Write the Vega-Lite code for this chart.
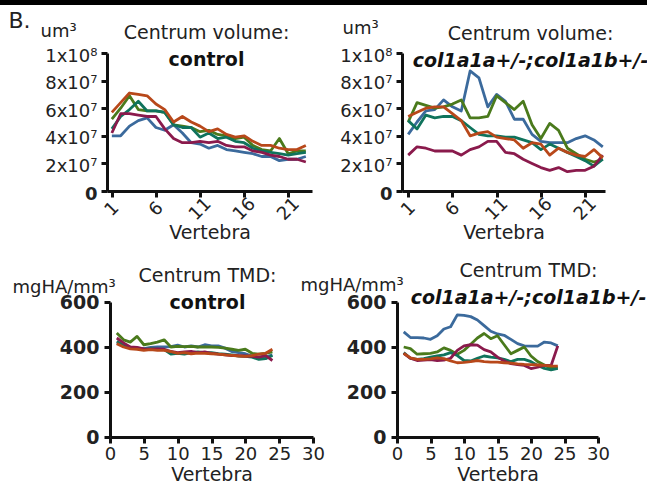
{
  "$schema": "https://vega.github.io/schema/vega-lite/v6.json",
  "padding": 0,
  "background": "white",
  "config": {
    "font": "DejaVu Sans",
    "view": {"stroke": null},
    "axis": {"grid": false, "domainColor": "#111", "domainWidth": 3, "tickColor": "#111", "tickWidth": 3, "tickSize": 6, "labelColor": "#222", "titleColor": "#222", "labelFont": "DejaVu Sans", "titleFont": "DejaVu Sans", "labelFontSize": 18, "titleFontSize": 19, "titleFontWeight": "normal", "labelOverlap": false, "labelFlush": false},
    "title": {"font": "DejaVu Sans", "fontSize": 19, "fontWeight": "normal", "color": "#222", "subtitleFont": "DejaVu Sans", "subtitleFontSize": 19, "subtitleFontWeight": "bold", "subtitleColor": "#111", "subtitlePadding": 8},
    "line": {"strokeWidth": 2.8, "strokeJoin": "round"}
  },
  "datasets": {
    "volCtrl": [
      {"fish":"A","vertebra":1,"volume":40000000},{"fish":"A","vertebra":2,"volume":40000000},{"fish":"A","vertebra":3,"volume":47000000},{"fish":"A","vertebra":4,"volume":51000000},{"fish":"A","vertebra":5,"volume":53000000},{"fish":"A","vertebra":6,"volume":46000000},{"fish":"A","vertebra":7,"volume":44000000},{"fish":"A","vertebra":8,"volume":48000000},{"fish":"A","vertebra":9,"volume":42000000},{"fish":"A","vertebra":10,"volume":35000000},{"fish":"A","vertebra":11,"volume":34000000},{"fish":"A","vertebra":12,"volume":31000000},{"fish":"A","vertebra":13,"volume":33000000},{"fish":"A","vertebra":14,"volume":30000000},{"fish":"A","vertebra":15,"volume":29000000},{"fish":"A","vertebra":16,"volume":28000000},{"fish":"A","vertebra":17,"volume":27000000},{"fish":"A","vertebra":18,"volume":25000000},{"fish":"A","vertebra":19,"volume":25000000},{"fish":"A","vertebra":20,"volume":22000000},{"fish":"A","vertebra":21,"volume":23000000},{"fish":"A","vertebra":22,"volume":23000000},{"fish":"A","vertebra":23,"volume":25000000},
      {"fish":"B","vertebra":1,"volume":52000000},{"fish":"B","vertebra":2,"volume":60000000},{"fish":"B","vertebra":3,"volume":69000000},{"fish":"B","vertebra":4,"volume":59000000},{"fish":"B","vertebra":5,"volume":58000000},{"fish":"B","vertebra":6,"volume":58000000},{"fish":"B","vertebra":7,"volume":57000000},{"fish":"B","vertebra":8,"volume":48000000},{"fish":"B","vertebra":9,"volume":47000000},{"fish":"B","vertebra":10,"volume":46000000},{"fish":"B","vertebra":11,"volume":43000000},{"fish":"B","vertebra":12,"volume":44000000},{"fish":"B","vertebra":13,"volume":41000000},{"fish":"B","vertebra":14,"volume":40000000},{"fish":"B","vertebra":15,"volume":38000000},{"fish":"B","vertebra":16,"volume":39000000},{"fish":"B","vertebra":17,"volume":33000000},{"fish":"B","vertebra":18,"volume":30000000},{"fish":"B","vertebra":19,"volume":29000000},{"fish":"B","vertebra":20,"volume":38000000},{"fish":"B","vertebra":21,"volume":27000000},{"fish":"B","vertebra":22,"volume":29000000},{"fish":"B","vertebra":23,"volume":29000000},
      {"fish":"C","vertebra":1,"volume":45000000},{"fish":"C","vertebra":2,"volume":54000000},{"fish":"C","vertebra":3,"volume":59000000},{"fish":"C","vertebra":4,"volume":65000000},{"fish":"C","vertebra":5,"volume":58000000},{"fish":"C","vertebra":6,"volume":58000000},{"fish":"C","vertebra":7,"volume":57000000},{"fish":"C","vertebra":8,"volume":48000000},{"fish":"C","vertebra":9,"volume":46000000},{"fish":"C","vertebra":10,"volume":46000000},{"fish":"C","vertebra":11,"volume":39000000},{"fish":"C","vertebra":12,"volume":42000000},{"fish":"C","vertebra":13,"volume":38000000},{"fish":"C","vertebra":14,"volume":39000000},{"fish":"C","vertebra":15,"volume":36000000},{"fish":"C","vertebra":16,"volume":35000000},{"fish":"C","vertebra":17,"volume":31000000},{"fish":"C","vertebra":18,"volume":29000000},{"fish":"C","vertebra":19,"volume":28000000},{"fish":"C","vertebra":20,"volume":27000000},{"fish":"C","vertebra":21,"volume":26000000},{"fish":"C","vertebra":22,"volume":27000000},{"fish":"C","vertebra":23,"volume":28000000},
      {"fish":"D","vertebra":1,"volume":42000000},{"fish":"D","vertebra":2,"volume":56000000},{"fish":"D","vertebra":3,"volume":56000000},{"fish":"D","vertebra":4,"volume":55000000},{"fish":"D","vertebra":5,"volume":54000000},{"fish":"D","vertebra":6,"volume":54000000},{"fish":"D","vertebra":7,"volume":45000000},{"fish":"D","vertebra":8,"volume":38000000},{"fish":"D","vertebra":9,"volume":35000000},{"fish":"D","vertebra":10,"volume":35000000},{"fish":"D","vertebra":11,"volume":36000000},{"fish":"D","vertebra":12,"volume":35000000},{"fish":"D","vertebra":13,"volume":36000000},{"fish":"D","vertebra":14,"volume":33000000},{"fish":"D","vertebra":15,"volume":32000000},{"fish":"D","vertebra":16,"volume":32000000},{"fish":"D","vertebra":17,"volume":29000000},{"fish":"D","vertebra":18,"volume":28000000},{"fish":"D","vertebra":19,"volume":26000000},{"fish":"D","vertebra":20,"volume":25000000},{"fish":"D","vertebra":21,"volume":23000000},{"fish":"D","vertebra":22,"volume":23000000},{"fish":"D","vertebra":23,"volume":21000000},
      {"fish":"E","vertebra":1,"volume":57000000},{"fish":"E","vertebra":2,"volume":64000000},{"fish":"E","vertebra":3,"volume":71000000},{"fish":"E","vertebra":4,"volume":70000000},{"fish":"E","vertebra":5,"volume":69000000},{"fish":"E","vertebra":6,"volume":63000000},{"fish":"E","vertebra":7,"volume":59000000},{"fish":"E","vertebra":8,"volume":50000000},{"fish":"E","vertebra":9,"volume":54000000},{"fish":"E","vertebra":10,"volume":50000000},{"fish":"E","vertebra":11,"volume":47000000},{"fish":"E","vertebra":12,"volume":43000000},{"fish":"E","vertebra":13,"volume":45000000},{"fish":"E","vertebra":14,"volume":41000000},{"fish":"E","vertebra":15,"volume":39000000},{"fish":"E","vertebra":16,"volume":40000000},{"fish":"E","vertebra":17,"volume":36000000},{"fish":"E","vertebra":18,"volume":33000000},{"fish":"E","vertebra":19,"volume":33000000},{"fish":"E","vertebra":20,"volume":31000000},{"fish":"E","vertebra":21,"volume":30000000},{"fish":"E","vertebra":22,"volume":30000000},{"fish":"E","vertebra":23,"volume":33000000}
    ],
    "volMut": [
      {"fish":"A","vertebra":1,"volume":41000000},{"fish":"A","vertebra":2,"volume":50000000},{"fish":"A","vertebra":3,"volume":58000000},{"fish":"A","vertebra":4,"volume":59000000},{"fish":"A","vertebra":5,"volume":66000000},{"fish":"A","vertebra":6,"volume":61000000},{"fish":"A","vertebra":7,"volume":58000000},{"fish":"A","vertebra":8,"volume":87000000},{"fish":"A","vertebra":9,"volume":82000000},{"fish":"A","vertebra":10,"volume":61000000},{"fish":"A","vertebra":11,"volume":70000000},{"fish":"A","vertebra":12,"volume":65000000},{"fish":"A","vertebra":13,"volume":52000000},{"fish":"A","vertebra":14,"volume":52000000},{"fish":"A","vertebra":15,"volume":41000000},{"fish":"A","vertebra":16,"volume":36000000},{"fish":"A","vertebra":17,"volume":35000000},{"fish":"A","vertebra":18,"volume":35000000},{"fish":"A","vertebra":19,"volume":35000000},{"fish":"A","vertebra":20,"volume":38000000},{"fish":"A","vertebra":21,"volume":40000000},{"fish":"A","vertebra":22,"volume":37000000},{"fish":"A","vertebra":23,"volume":32000000},
      {"fish":"B","vertebra":1,"volume":50000000},{"fish":"B","vertebra":2,"volume":64000000},{"fish":"B","vertebra":3,"volume":62000000},{"fish":"B","vertebra":4,"volume":60000000},{"fish":"B","vertebra":5,"volume":61000000},{"fish":"B","vertebra":6,"volume":63000000},{"fish":"B","vertebra":7,"volume":66000000},{"fish":"B","vertebra":8,"volume":53000000},{"fish":"B","vertebra":9,"volume":53000000},{"fish":"B","vertebra":10,"volume":54000000},{"fish":"B","vertebra":11,"volume":69000000},{"fish":"B","vertebra":12,"volume":64000000},{"fish":"B","vertebra":13,"volume":59000000},{"fish":"B","vertebra":14,"volume":65000000},{"fish":"B","vertebra":15,"volume":48000000},{"fish":"B","vertebra":16,"volume":38000000},{"fish":"B","vertebra":17,"volume":49000000},{"fish":"B","vertebra":18,"volume":44000000},{"fish":"B","vertebra":19,"volume":31000000},{"fish":"B","vertebra":20,"volume":27000000},{"fish":"B","vertebra":21,"volume":23000000},{"fish":"B","vertebra":22,"volume":21000000},{"fish":"B","vertebra":23,"volume":23000000},
      {"fish":"C","vertebra":1,"volume":51000000},{"fish":"C","vertebra":2,"volume":45000000},{"fish":"C","vertebra":3,"volume":55000000},{"fish":"C","vertebra":4,"volume":53000000},{"fish":"C","vertebra":5,"volume":54000000},{"fish":"C","vertebra":6,"volume":54000000},{"fish":"C","vertebra":7,"volume":51000000},{"fish":"C","vertebra":8,"volume":46000000},{"fish":"C","vertebra":9,"volume":41000000},{"fish":"C","vertebra":10,"volume":40000000},{"fish":"C","vertebra":11,"volume":40000000},{"fish":"C","vertebra":12,"volume":39000000},{"fish":"C","vertebra":13,"volume":39000000},{"fish":"C","vertebra":14,"volume":37000000},{"fish":"C","vertebra":15,"volume":35000000},{"fish":"C","vertebra":16,"volume":30000000},{"fish":"C","vertebra":17,"volume":34000000},{"fish":"C","vertebra":18,"volume":31000000},{"fish":"C","vertebra":19,"volume":28000000},{"fish":"C","vertebra":20,"volume":25000000},{"fish":"C","vertebra":21,"volume":22000000},{"fish":"C","vertebra":22,"volume":18000000},{"fish":"C","vertebra":23,"volume":23000000},
      {"fish":"D","vertebra":1,"volume":26000000},{"fish":"D","vertebra":2,"volume":32000000},{"fish":"D","vertebra":3,"volume":31000000},{"fish":"D","vertebra":4,"volume":29000000},{"fish":"D","vertebra":5,"volume":29000000},{"fish":"D","vertebra":6,"volume":29000000},{"fish":"D","vertebra":7,"volume":26000000},{"fish":"D","vertebra":8,"volume":30000000},{"fish":"D","vertebra":9,"volume":32000000},{"fish":"D","vertebra":10,"volume":36000000},{"fish":"D","vertebra":11,"volume":36000000},{"fish":"D","vertebra":12,"volume":28000000},{"fish":"D","vertebra":13,"volume":27000000},{"fish":"D","vertebra":14,"volume":23000000},{"fish":"D","vertebra":15,"volume":20000000},{"fish":"D","vertebra":16,"volume":17000000},{"fish":"D","vertebra":17,"volume":15000000},{"fish":"D","vertebra":18,"volume":17000000},{"fish":"D","vertebra":19,"volume":14000000},{"fish":"D","vertebra":20,"volume":15000000},{"fish":"D","vertebra":21,"volume":15000000},{"fish":"D","vertebra":22,"volume":18000000},{"fish":"D","vertebra":23,"volume":26000000},
      {"fish":"E","vertebra":1,"volume":54000000},{"fish":"E","vertebra":2,"volume":57000000},{"fish":"E","vertebra":3,"volume":60000000},{"fish":"E","vertebra":4,"volume":61000000},{"fish":"E","vertebra":5,"volume":61000000},{"fish":"E","vertebra":6,"volume":56000000},{"fish":"E","vertebra":7,"volume":51000000},{"fish":"E","vertebra":8,"volume":40000000},{"fish":"E","vertebra":9,"volume":42000000},{"fish":"E","vertebra":10,"volume":43000000},{"fish":"E","vertebra":11,"volume":39000000},{"fish":"E","vertebra":12,"volume":38000000},{"fish":"E","vertebra":13,"volume":37000000},{"fish":"E","vertebra":14,"volume":31000000},{"fish":"E","vertebra":15,"volume":35000000},{"fish":"E","vertebra":16,"volume":34000000},{"fish":"E","vertebra":17,"volume":26000000},{"fish":"E","vertebra":18,"volume":31000000},{"fish":"E","vertebra":19,"volume":28000000},{"fish":"E","vertebra":20,"volume":26000000},{"fish":"E","vertebra":21,"volume":25000000},{"fish":"E","vertebra":22,"volume":30000000},{"fish":"E","vertebra":23,"volume":24000000}
    ],
    "tmdCtrl": [
      {"fish":"A","vertebra":1,"tmd":418},{"fish":"A","vertebra":2,"tmd":405},{"fish":"A","vertebra":3,"tmd":395},{"fish":"A","vertebra":4,"tmd":395},{"fish":"A","vertebra":5,"tmd":393},{"fish":"A","vertebra":6,"tmd":398},{"fish":"A","vertebra":7,"tmd":400},{"fish":"A","vertebra":8,"tmd":400},{"fish":"A","vertebra":9,"tmd":402},{"fish":"A","vertebra":10,"tmd":408},{"fish":"A","vertebra":11,"tmd":400},{"fish":"A","vertebra":12,"tmd":405},{"fish":"A","vertebra":13,"tmd":400},{"fish":"A","vertebra":14,"tmd":410},{"fish":"A","vertebra":15,"tmd":405},{"fish":"A","vertebra":16,"tmd":405},{"fish":"A","vertebra":17,"tmd":395},{"fish":"A","vertebra":18,"tmd":380},{"fish":"A","vertebra":19,"tmd":375},{"fish":"A","vertebra":20,"tmd":370},{"fish":"A","vertebra":21,"tmd":360},{"fish":"A","vertebra":22,"tmd":350},{"fish":"A","vertebra":23,"tmd":355},{"fish":"A","vertebra":24,"tmd":365},
      {"fish":"B","vertebra":1,"tmd":462},{"fish":"B","vertebra":2,"tmd":432},{"fish":"B","vertebra":3,"tmd":422},{"fish":"B","vertebra":4,"tmd":447},{"fish":"B","vertebra":5,"tmd":410},{"fish":"B","vertebra":6,"tmd":415},{"fish":"B","vertebra":7,"tmd":422},{"fish":"B","vertebra":8,"tmd":432},{"fish":"B","vertebra":9,"tmd":400},{"fish":"B","vertebra":10,"tmd":403},{"fish":"B","vertebra":11,"tmd":402},{"fish":"B","vertebra":12,"tmd":403},{"fish":"B","vertebra":13,"tmd":400},{"fish":"B","vertebra":14,"tmd":400},{"fish":"B","vertebra":15,"tmd":400},{"fish":"B","vertebra":16,"tmd":398},{"fish":"B","vertebra":17,"tmd":395},{"fish":"B","vertebra":18,"tmd":390},{"fish":"B","vertebra":19,"tmd":385},{"fish":"B","vertebra":20,"tmd":390},{"fish":"B","vertebra":21,"tmd":372},{"fish":"B","vertebra":22,"tmd":368},{"fish":"B","vertebra":23,"tmd":372},{"fish":"B","vertebra":24,"tmd":378},
      {"fish":"C","vertebra":1,"tmd":425},{"fish":"C","vertebra":2,"tmd":408},{"fish":"C","vertebra":3,"tmd":398},{"fish":"C","vertebra":4,"tmd":395},{"fish":"C","vertebra":5,"tmd":390},{"fish":"C","vertebra":6,"tmd":392},{"fish":"C","vertebra":7,"tmd":390},{"fish":"C","vertebra":8,"tmd":388},{"fish":"C","vertebra":9,"tmd":368},{"fish":"C","vertebra":10,"tmd":372},{"fish":"C","vertebra":11,"tmd":368},{"fish":"C","vertebra":12,"tmd":375},{"fish":"C","vertebra":13,"tmd":378},{"fish":"C","vertebra":14,"tmd":375},{"fish":"C","vertebra":15,"tmd":375},{"fish":"C","vertebra":16,"tmd":370},{"fish":"C","vertebra":17,"tmd":368},{"fish":"C","vertebra":18,"tmd":365},{"fish":"C","vertebra":19,"tmd":360},{"fish":"C","vertebra":20,"tmd":358},{"fish":"C","vertebra":21,"tmd":355},{"fish":"C","vertebra":22,"tmd":345},{"fish":"C","vertebra":23,"tmd":348},{"fish":"C","vertebra":24,"tmd":362},
      {"fish":"D","vertebra":1,"tmd":440},{"fish":"D","vertebra":2,"tmd":418},{"fish":"D","vertebra":3,"tmd":400},{"fish":"D","vertebra":4,"tmd":398},{"fish":"D","vertebra":5,"tmd":392},{"fish":"D","vertebra":6,"tmd":390},{"fish":"D","vertebra":7,"tmd":392},{"fish":"D","vertebra":8,"tmd":390},{"fish":"D","vertebra":9,"tmd":380},{"fish":"D","vertebra":10,"tmd":375},{"fish":"D","vertebra":11,"tmd":378},{"fish":"D","vertebra":12,"tmd":380},{"fish":"D","vertebra":13,"tmd":375},{"fish":"D","vertebra":14,"tmd":378},{"fish":"D","vertebra":15,"tmd":372},{"fish":"D","vertebra":16,"tmd":368},{"fish":"D","vertebra":17,"tmd":365},{"fish":"D","vertebra":18,"tmd":362},{"fish":"D","vertebra":19,"tmd":362},{"fish":"D","vertebra":20,"tmd":360},{"fish":"D","vertebra":21,"tmd":358},{"fish":"D","vertebra":22,"tmd":355},{"fish":"D","vertebra":23,"tmd":362},{"fish":"D","vertebra":24,"tmd":340},
      {"fish":"E","vertebra":1,"tmd":415},{"fish":"E","vertebra":2,"tmd":400},{"fish":"E","vertebra":3,"tmd":392},{"fish":"E","vertebra":4,"tmd":390},{"fish":"E","vertebra":5,"tmd":385},{"fish":"E","vertebra":6,"tmd":388},{"fish":"E","vertebra":7,"tmd":385},{"fish":"E","vertebra":8,"tmd":385},{"fish":"E","vertebra":9,"tmd":380},{"fish":"E","vertebra":10,"tmd":372},{"fish":"E","vertebra":11,"tmd":375},{"fish":"E","vertebra":12,"tmd":370},{"fish":"E","vertebra":13,"tmd":373},{"fish":"E","vertebra":14,"tmd":372},{"fish":"E","vertebra":15,"tmd":370},{"fish":"E","vertebra":16,"tmd":368},{"fish":"E","vertebra":17,"tmd":365},{"fish":"E","vertebra":18,"tmd":363},{"fish":"E","vertebra":19,"tmd":360},{"fish":"E","vertebra":20,"tmd":358},{"fish":"E","vertebra":21,"tmd":362},{"fish":"E","vertebra":22,"tmd":368},{"fish":"E","vertebra":23,"tmd":372},{"fish":"E","vertebra":24,"tmd":390}
    ],
    "tmdMut": [
      {"fish":"A","vertebra":1,"tmd":467},{"fish":"A","vertebra":2,"tmd":442},{"fish":"A","vertebra":3,"tmd":442},{"fish":"A","vertebra":4,"tmd":440},{"fish":"A","vertebra":5,"tmd":434},{"fish":"A","vertebra":6,"tmd":450},{"fish":"A","vertebra":7,"tmd":480},{"fish":"A","vertebra":8,"tmd":490},{"fish":"A","vertebra":9,"tmd":543},{"fish":"A","vertebra":10,"tmd":541},{"fish":"A","vertebra":11,"tmd":535},{"fish":"A","vertebra":12,"tmd":520},{"fish":"A","vertebra":13,"tmd":495},{"fish":"A","vertebra":14,"tmd":470},{"fish":"A","vertebra":15,"tmd":458},{"fish":"A","vertebra":16,"tmd":452},{"fish":"A","vertebra":17,"tmd":434},{"fish":"A","vertebra":18,"tmd":415},{"fish":"A","vertebra":19,"tmd":405},{"fish":"A","vertebra":20,"tmd":404},{"fish":"A","vertebra":21,"tmd":404},{"fish":"A","vertebra":22,"tmd":422},{"fish":"A","vertebra":23,"tmd":418},{"fish":"A","vertebra":24,"tmd":405},
      {"fish":"B","vertebra":1,"tmd":400},{"fish":"B","vertebra":2,"tmd":393},{"fish":"B","vertebra":3,"tmd":368},{"fish":"B","vertebra":4,"tmd":370},{"fish":"B","vertebra":5,"tmd":372},{"fish":"B","vertebra":6,"tmd":378},{"fish":"B","vertebra":7,"tmd":396},{"fish":"B","vertebra":8,"tmd":385},{"fish":"B","vertebra":9,"tmd":368},{"fish":"B","vertebra":10,"tmd":385},{"fish":"B","vertebra":11,"tmd":412},{"fish":"B","vertebra":12,"tmd":440},{"fish":"B","vertebra":13,"tmd":460},{"fish":"B","vertebra":14,"tmd":437},{"fish":"B","vertebra":15,"tmd":450},{"fish":"B","vertebra":16,"tmd":410},{"fish":"B","vertebra":17,"tmd":370},{"fish":"B","vertebra":18,"tmd":385},{"fish":"B","vertebra":19,"tmd":400},{"fish":"B","vertebra":20,"tmd":360},{"fish":"B","vertebra":21,"tmd":335},{"fish":"B","vertebra":22,"tmd":320},{"fish":"B","vertebra":23,"tmd":304},{"fish":"B","vertebra":24,"tmd":310},
      {"fish":"C","vertebra":1,"tmd":375},{"fish":"C","vertebra":2,"tmd":350},{"fish":"C","vertebra":3,"tmd":345},{"fish":"C","vertebra":4,"tmd":348},{"fish":"C","vertebra":5,"tmd":355},{"fish":"C","vertebra":6,"tmd":360},{"fish":"C","vertebra":7,"tmd":365},{"fish":"C","vertebra":8,"tmd":375},{"fish":"C","vertebra":9,"tmd":362},{"fish":"C","vertebra":10,"tmd":340},{"fish":"C","vertebra":11,"tmd":338},{"fish":"C","vertebra":12,"tmd":350},{"fish":"C","vertebra":13,"tmd":360},{"fish":"C","vertebra":14,"tmd":355},{"fish":"C","vertebra":15,"tmd":352},{"fish":"C","vertebra":16,"tmd":345},{"fish":"C","vertebra":17,"tmd":335},{"fish":"C","vertebra":18,"tmd":345},{"fish":"C","vertebra":19,"tmd":345},{"fish":"C","vertebra":20,"tmd":335},{"fish":"C","vertebra":21,"tmd":318},{"fish":"C","vertebra":22,"tmd":305},{"fish":"C","vertebra":23,"tmd":298},{"fish":"C","vertebra":24,"tmd":305},
      {"fish":"D","vertebra":1,"tmd":372},{"fish":"D","vertebra":2,"tmd":350},{"fish":"D","vertebra":3,"tmd":340},{"fish":"D","vertebra":4,"tmd":342},{"fish":"D","vertebra":5,"tmd":344},{"fish":"D","vertebra":6,"tmd":340},{"fish":"D","vertebra":7,"tmd":342},{"fish":"D","vertebra":8,"tmd":350},{"fish":"D","vertebra":9,"tmd":385},{"fish":"D","vertebra":10,"tmd":405},{"fish":"D","vertebra":11,"tmd":410},{"fish":"D","vertebra":12,"tmd":408},{"fish":"D","vertebra":13,"tmd":388},{"fish":"D","vertebra":14,"tmd":378},{"fish":"D","vertebra":15,"tmd":355},{"fish":"D","vertebra":16,"tmd":338},{"fish":"D","vertebra":17,"tmd":326},{"fish":"D","vertebra":18,"tmd":322},{"fish":"D","vertebra":19,"tmd":318},{"fish":"D","vertebra":20,"tmd":304},{"fish":"D","vertebra":21,"tmd":310},{"fish":"D","vertebra":22,"tmd":318},{"fish":"D","vertebra":23,"tmd":318},{"fish":"D","vertebra":24,"tmd":405},
      {"fish":"E","vertebra":1,"tmd":372},{"fish":"E","vertebra":2,"tmd":352},{"fish":"E","vertebra":3,"tmd":345},{"fish":"E","vertebra":4,"tmd":345},{"fish":"E","vertebra":5,"tmd":347},{"fish":"E","vertebra":6,"tmd":352},{"fish":"E","vertebra":7,"tmd":348},{"fish":"E","vertebra":8,"tmd":338},{"fish":"E","vertebra":9,"tmd":330},{"fish":"E","vertebra":10,"tmd":332},{"fish":"E","vertebra":11,"tmd":335},{"fish":"E","vertebra":12,"tmd":340},{"fish":"E","vertebra":13,"tmd":335},{"fish":"E","vertebra":14,"tmd":333},{"fish":"E","vertebra":15,"tmd":333},{"fish":"E","vertebra":16,"tmd":330},{"fish":"E","vertebra":17,"tmd":328},{"fish":"E","vertebra":18,"tmd":325},{"fish":"E","vertebra":19,"tmd":323},{"fish":"E","vertebra":20,"tmd":322},{"fish":"E","vertebra":21,"tmd":320},{"fish":"E","vertebra":22,"tmd":318},{"fish":"E","vertebra":23,"tmd":316},{"fish":"E","vertebra":24,"tmd":315}
    ]
  },
  "columns": 1,
  "align": "none",
  "spacing": 4,
  "concat": [
    {
      "width": 647, "height": 5,
      "view": {"fill": "black", "stroke": null},
      "data": {"values": [{}]},
      "mark": {"type": "point", "opacity": 0, "size": 1},
      "encoding": {}
    },
    {
      "columns": 1,
      "align": "none",
      "spacing": 19,
      "concat": [
        {
          "bounds": "flush",
          "spacing": 90,
          "hconcat": [
            {
              "width": 17, "height": 1,
              "data": {"values": [{}]},
              "mark": {"type": "point", "opacity": 0, "size": 1},
              "encoding": {}
            },
            {
              "width": 205, "height": 138,
              "title": {"text": "Centrum volume:", "subtitle": "control", "offset": -61, "dx": -3},
              "data": {"name": "volCtrl"},
              "encoding": {
                "y": {"field": "volume", "type": "quantitative", "scale": {"domain": [0, 100000000], "nice": false},
                      "axis": {"values": [0, 20000000, 40000000, 60000000, 80000000, 100000000],
                               "labelExpr": "datum.value == 0 ? '0' : datum.value == 100000000 ? '1x10⁸' : (datum.value / 10000000) + 'x10⁷'",
                               "labelFontWeight": {"condition": {"test": "datum.value == 0", "value": "bold"}, "value": "normal"},
                               "labelPadding": 4, "labelOffset": 3, "minExtent": 100, "maxExtent": 100,
                               "title": "um³", "titleAngle": 0, "titleAlign": "left", "titleBaseline": "alphabetic", "titleX": -67, "titleY": -17, "titleFontSize": 18}},
                "color": {"field": "fish", "type": "nominal", "scale": {"domain": ["A", "B", "C", "D", "E"], "range": ["#3b6a9c", "#4a7a1c", "#0f735c", "#8a1a4c", "#b8481a"]}, "legend": null}
              },
              "layer": [
                {
                  "mark": "line",
                  "encoding": {
                    "x": {"field": "vertebra", "type": "quantitative", "scale": {"domain": [0.45, 23.7], "nice": false, "zero": false},
                          "axis": {"values": [1, 6, 11, 16, 21], "labelAngle": -45, "labelAlign": "center", "labelBaseline": "middle", "labelPadding": 12, "title": "Vertebra", "titlePadding": 0}}
                  }
                },
                {
                  "mark": {"type": "line", "strokeOpacity": 0},
                  "encoding": {
                    "x": {"field": "vertebra", "type": "quantitative",
                          "axis": {"orient": "top", "domain": false, "ticks": false, "labels": false, "title": "B.", "titleAngle": 0, "titleAlign": "left", "titleBaseline": "alphabetic", "titleX": -99, "titleY": -26, "titleFontSize": 22}}
                  }
                }
              ],
              "resolve": {"axis": {"x": "independent"}}
            },
            {
              "width": 203, "height": 138,
              "title": {"text": "Centrum volume:", "subtitle": "col1a1a+/-;col1a1b+/-", "subtitleFontStyle": "italic", "offset": -52, "dx": 27},
              "data": {"name": "volMut"},
              "mark": "line",
              "encoding": {
                "x": {"field": "vertebra", "type": "quantitative", "scale": {"domain": [0.3, 23.25], "nice": false, "zero": false},
                      "axis": {"values": [1, 6, 11, 16, 21], "labelAngle": -45, "labelAlign": "center", "labelBaseline": "middle", "labelPadding": 12, "title": "Vertebra", "titlePadding": 0}},
                "y": {"field": "volume", "type": "quantitative", "scale": {"domain": [0, 100000000], "nice": false},
                      "axis": {"values": [0, 20000000, 40000000, 60000000, 80000000, 100000000],
                               "labelExpr": "datum.value == 0 ? '0' : datum.value == 100000000 ? '1x10⁸' : (datum.value / 10000000) + 'x10⁷'",
                               "labelFontWeight": {"condition": {"test": "datum.value == 0", "value": "bold"}, "value": "normal"},
                               "labelPadding": 4, "labelOffset": 3,
                               "title": "um³", "titleAngle": 0, "titleAlign": "left", "titleBaseline": "alphabetic", "titleX": -60, "titleY": -20, "titleFontSize": 18}},
                "color": {"field": "fish", "type": "nominal", "legend": null}
              }
            }
          ]
        },
        {
          "bounds": "flush",
          "spacing": 84,
          "hconcat": [
            {
              "width": 26, "height": 1,
              "data": {"values": [{}]},
              "mark": {"type": "point", "opacity": 0, "size": 1},
              "encoding": {}
            },
            {
              "width": 203, "height": 135,
              "title": {"text": "Centrum TMD:", "subtitle": "control", "offset": -35, "dx": -4},
              "data": {"name": "tmdCtrl"},
              "mark": "line",
              "encoding": {
                "x": {"field": "vertebra", "type": "quantitative", "scale": {"domain": [0, 30], "nice": false},
                      "axis": {"values": [0, 5, 10, 15, 20, 25, 30], "labelAngle": 0, "labelPadding": 2, "labelFontSize": 18, "title": "Vertebra", "titlePadding": 2}},
                "y": {"field": "tmd", "type": "quantitative", "scale": {"domain": [0, 600], "nice": false},
                      "axis": {"values": [0, 200, 400, 600], "labelFontWeight": "bold", "labelFontSize": 19, "labelPadding": 5, "minExtent": 100, "maxExtent": 100,
                               "title": "mgHA/mm³", "titleAngle": 0, "titleAlign": "left", "titleBaseline": "alphabetic", "titleX": -98, "titleY": -10, "titleFontSize": 18}},
                "color": {"field": "fish", "type": "nominal", "legend": null}
              }
            },
            {
              "width": 201, "height": 135,
              "title": {"text": "Centrum TMD:", "subtitle": "col1a1a+/-;col1a1b+/-", "subtitleFontStyle": "italic", "offset": -32, "dx": 31},
              "data": {"name": "tmdMut"},
              "mark": "line",
              "encoding": {
                "x": {"field": "vertebra", "type": "quantitative", "scale": {"domain": [0, 30], "nice": false},
                      "axis": {"values": [0, 5, 10, 15, 20, 25, 30], "labelAngle": 0, "labelPadding": 2, "labelFontSize": 18, "title": "Vertebra", "titlePadding": 2}},
                "y": {"field": "tmd", "type": "quantitative", "scale": {"domain": [0, 600], "nice": false},
                      "axis": {"values": [0, 200, 400, 600], "labelFontWeight": "bold", "labelFontSize": 19, "labelPadding": 5,
                               "title": "mgHA/mm³", "titleAngle": 0, "titleAlign": "left", "titleBaseline": "alphabetic", "titleX": -97, "titleY": -12, "titleFontSize": 18}},
                "color": {"field": "fish", "type": "nominal", "legend": null}
              }
            }
          ]
        }
      ]
    }
  ]
}
